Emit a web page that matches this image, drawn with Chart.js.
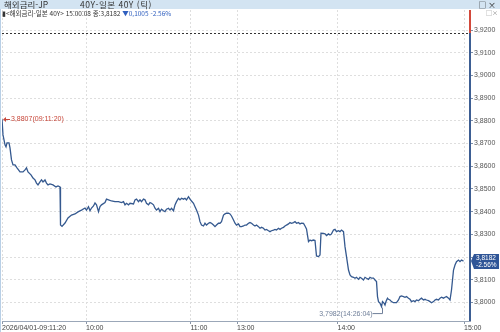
<!DOCTYPE html>
<html lang="ko">
<head>
<meta charset="UTF-8">
<title>해외금리-JP 40Y-일본 40Y (틱)</title>
<script src="https://cdn.jsdelivr.net/npm/chart.js@4.4.1/dist/chart.umd.min.js"></script>
<style>
  html, body { margin: 0; padding: 0; background: #fff; }
  #wrap { position: relative; width: 500px; height: 332px; overflow: hidden; font-family: "Noto Sans CJK KR", sans-serif; }
  #myChart { position: absolute; left: 0; top: 0; }
  #titlebar { position: absolute; left: 0; top: 0; width: 500px; height: 9px; background: #d3e4f2; color: #333; font-size: 8.5px; line-height: 9px; white-space: nowrap; }
  #titlebar .t1 { position: absolute; left: 4px; }
  #titlebar .t2 { position: absolute; left: 80px; letter-spacing: 0.5px; }
  #titlebar .btn { position: absolute; right: 4px; font-size: 8px; color: #222; }
  #info { position: absolute; left: 2px; top: 9px; font-size: 6.5px; line-height: 9px; color: #333; white-space: nowrap; }
  #info .chg { color: #2f5fbf; }
  #mini { position: absolute; right: 2px; top: 9px; font-size: 6px; line-height: 7px; color: #888; }
  #lborder { position: absolute; left: 0; top: 0; width: 1px; height: 332px; background: #b8cfe6; }
</style>
</head>
<body>
<div id="wrap">
  <canvas id="myChart" width="500" height="332"></canvas>
  <div id="lborder"></div>
  <div id="titlebar"><span class="t1">해외금리-JP</span><span class="t2">40Y-일본 40Y (틱)</span><span class="btn">□ ×</span></div>
  <div id="info">▮&lt;해외금리-일본 40Y&gt; 15:00:08 종:3,8182 <span class="chg">▼0,1005 -2.56%</span></div>
  <div id="mini">□×</div>
</div>
<script>
    // tick sequence number and price of each traced tick
    const tickSeq = [0,2,4,6,8,10,14,16,19,22,26,30,36,42,46,49,52,58,62,66,69,72,76,79,82,86,89,92,96,102,108,112,116,
      117,120,126,132,139,146,152,159,166,169,173,176,179,183,186,189,193,196,199,206,209,213,219,226,233,239,243,246,249,253,256,
      263,266,269,273,276,279,283,286,289,293,296,299,303,306,309,313,316,319,323,326,329,333,336,339,343,346,349,353,356,359,363,
      366,369,373,376,379,383,386,389,393,396,399,403,406,409,413,416,419,423,426,429,433,436,439,443,446,449,453,456,459,463,466,
      469,473,476,479,483,486,489,493,496,499,503,506,509,513,516,519,523,526,529,533,536,539,543,546,549,553,556,559,563,566,569,
      573,576,579,583,586,589,593,596,599,603,606,609,613,616,619,623,626,629,633,636,638,643,646,649,653,656,659,663,666,669,673,
      676,679,683,686,689,693,696,699,703,706,709,713,716,719,723,726,729,733,736,739,743,746,749,751,753,756,759,761,764,766,768,
      771,773,776,779,783,789,793,796,799,803,806,809,813,816,819,823,826,829,833,836,839,843,846,849,853,856,859,863,866,869,873,
      876,879,883,886,889,893,896,899,903,906,909,913,916,919,923];
    const prices = [3.8807,3.8738,3.8716,3.8694,3.8685,3.8703,3.8703,3.8681,3.8628,3.8606,3.8606,3.8593,3.8575,3.8575,3.8584,3.8593,
      3.8575,3.8562,3.8548,3.8540,3.8526,3.8518,3.8531,3.8540,3.8531,3.8540,3.8526,3.8518,3.8522,3.8518,3.8509,3.8513,3.8509,
      3.8341,3.8335,3.8350,3.8372,3.8385,3.8390,3.8399,3.8407,3.8416,3.8407,3.8422,3.8404,3.8416,3.8425,3.8438,3.8430,3.8400,3.8422,
      3.8430,3.8440,3.8455,3.8452,3.8447,3.8444,3.8444,3.8440,3.8444,3.8430,3.8437,3.8430,3.8437,3.8434,3.8452,3.8455,3.8444,3.8452,
      3.8444,3.8455,3.8452,3.8437,3.8430,3.8440,3.8437,3.8430,3.8415,3.8407,3.8415,3.8400,3.8411,3.8404,3.8400,3.8411,3.8415,3.8407,
      3.8415,3.8404,3.8430,3.8444,3.8459,3.8452,3.8459,3.8455,3.8459,3.8452,3.8466,3.8455,3.8447,3.8437,3.8422,3.8407,3.8385,3.8356,
      3.8341,3.8337,3.8349,3.8341,3.8349,3.8352,3.8349,3.8341,3.8334,3.8341,3.8349,3.8349,3.8356,3.8385,3.8390,3.8393,3.8393,3.8390,
      3.8381,3.8363,3.8349,3.8341,3.8346,3.8334,3.8334,3.8337,3.8341,3.8341,3.8349,3.8352,3.8349,3.8341,3.8337,3.8341,3.8334,3.8327,
      3.8331,3.8327,3.8319,3.8322,3.8316,3.8312,3.8316,3.8319,3.8322,3.8319,3.8327,3.8322,3.8327,3.8331,3.8337,3.8341,3.8346,3.8352,
      3.8349,3.8352,3.8356,3.8349,3.8352,3.8346,3.8349,3.8348,3.8337,3.8324,3.8268,3.8275,3.8272,3.8275,3.8273,3.8205,3.8202,3.8209,
      3.8305,3.8304,3.8302,3.8295,3.8302,3.8297,3.8302,3.8319,3.8322,3.8312,3.8316,3.8312,3.8319,3.8312,3.8246,3.8202,3.8143,3.8121,
      3.8114,3.8111,3.8107,3.8111,3.8102,3.8111,3.8107,3.8099,3.8111,3.8107,3.8102,3.8111,3.8107,3.8107,3.8099,3.8092,3.8026,3.8004,
      3.7997,3.7982,3.8004,3.7997,3.7989,3.8004,3.8019,3.8014,3.8011,3.8004,3.7999,3.7999,3.8011,3.8026,3.8029,3.8026,3.8023,3.8026,
      3.8019,3.8014,3.8004,3.8008,3.8004,3.8011,3.8008,3.8014,3.8019,3.8011,3.8014,3.8011,3.8008,3.8004,3.7999,3.8004,3.8011,3.8014,
      3.8011,3.8019,3.8023,3.8019,3.8023,3.8026,3.8019,3.8011,3.8055,3.8143,3.8165,3.8180,3.8187,3.8180,3.8187,3.8182];

    const timeTickSeq = [0, 168, 377, 470, 671, 924];
    const timeTickLabels = ['2026/04/01-09:11:20', '10:00', '11:00', '13:00', '14:00', '15:00'];
    const priceTicks = [3.80, 3.81, 3.82, 3.83, 3.84, 3.85, 3.86, 3.87, 3.88, 3.89, 3.90, 3.91, 3.92];

    const prevClose = 3.9187;
    const lastPrice = 3.8182;
    const lastChange = '-2.56%';
    const highSeq = 0, highPrice = 3.8807, highTime = '09:11:20';
    const lowSeq = 759, lowPrice = 3.7982, lowTime = '14:26:04';

    const FONT = 'Liberation Sans';
    const fmt = v => v.toFixed(4).replace('.', ',');

    const overlay = {
        id: 'overlay',
        beforeDatasetsDraw: (chart) => {
            const ctx = chart.ctx, a = chart.chartArea;
            const yp = Math.round(chart.scales.y.getPixelForValue(prevClose)) + 0.5;
            ctx.save();
            ctx.strokeStyle = '#333';
            ctx.lineWidth = 1;
            ctx.setLineDash([2, 2]);
            ctx.beginPath();
            ctx.moveTo(a.left, yp);
            ctx.lineTo(a.right, yp);
            ctx.stroke();
            ctx.restore();
        },
        afterDraw: (chart) => {
            const ctx = chart.ctx, a = chart.chartArea;
            const xs = chart.scales.x, ys = chart.scales.y;
            const yp = ys.getPixelForValue(prevClose);
            ctx.save();
            // right axis line: red above previous close, blue below
            ctx.lineWidth = 2;
            ctx.strokeStyle = '#d2493b';
            ctx.beginPath(); ctx.moveTo(a.right, a.top); ctx.lineTo(a.right, yp); ctx.stroke();
            ctx.strokeStyle = '#3d5e93';
            ctx.beginPath(); ctx.moveTo(a.right, yp); ctx.lineTo(a.right, a.bottom); ctx.stroke();

            // current price box
            const yl = Math.round(ys.getPixelForValue(lastPrice));
            ctx.fillStyle = '#2f5597';
            ctx.beginPath();
            ctx.moveTo(a.right + 1, yl);
            ctx.lineTo(a.right + 4, yl - 7);
            ctx.lineTo(499, yl - 7);
            ctx.lineTo(499, yl + 8);
            ctx.lineTo(a.right + 4, yl + 8);
            ctx.closePath();
            ctx.fill();
            ctx.fillStyle = '#fff';
            ctx.font = '6.5px ' + FONT;
            ctx.textAlign = 'left';
            ctx.textBaseline = 'middle';
            ctx.fillText(fmt(lastPrice), a.right + 6, yl - 3);
            ctx.fillText(lastChange, a.right + 6, yl + 4);

            // high marker
            const hx = xs.getPixelForValue(highSeq), hy = Math.round(ys.getPixelForValue(highPrice)) + 0.5;
            ctx.strokeStyle = '#c8473a'; ctx.fillStyle = '#c8473a'; ctx.lineWidth = 1;
            ctx.beginPath(); ctx.moveTo(hx + 2, hy); ctx.lineTo(hx + 8, hy); ctx.stroke();
            ctx.beginPath(); ctx.moveTo(hx + 1, hy); ctx.lineTo(hx + 4, hy - 2.5); ctx.lineTo(hx + 4, hy + 2.5); ctx.closePath(); ctx.fill();
            ctx.font = '7px ' + FONT;
            ctx.fillText(fmt(highPrice) + '(' + highTime + ')', hx + 9, hy);

            // low marker
            const lx = Math.round(xs.getPixelForValue(lowSeq)) + 0.5, ly = ys.getPixelForValue(lowPrice);
            ctx.strokeStyle = '#6f7f99'; ctx.fillStyle = '#6f7f99';
            ctx.beginPath(); ctx.moveTo(lx, ly + 1); ctx.lineTo(lx, ly + 7); ctx.lineTo(lx - 10, ly + 7); ctx.stroke();
            ctx.textAlign = 'right';
            ctx.fillText(fmt(lowPrice) + '(' + lowTime + ')', lx - 10, ly + 7);
            ctx.restore();
        }
    };

    const ctx = document.getElementById('myChart');
    const myChart = new Chart(ctx, {
        type: 'line',
        data: {
            datasets: [{
                label: '40Y-일본 40Y',
                data: tickSeq.map((s, i) => ({ x: s, y: prices[i] })),
                borderColor: '#35598f',
                borderWidth: 1.3,
                pointRadius: 0,
                tension: 0
            }]
        },
        options: {
            responsive: false,
            animation: false,
            events: [],
            layout: { padding: { left: 2, top: 10, right: 0, bottom: 0 } },
            plugins: { legend: { display: false }, tooltip: { enabled: false } },
            scales: {
                x: {
                    type: 'linear',
                    min: 0,
                    max: 936,
                    afterBuildTicks: s => { s.ticks = timeTickSeq.map(v => ({ value: v })); },
                    afterFit: s => { s.height = 11; },
                    ticks: {
                        autoSkip: false,
                        maxRotation: 0,
                        align: 'start',
                        padding: 0,
                        color: '#444',
                        font: { size: 7, family: FONT },
                        callback: v => timeTickLabels[timeTickSeq.indexOf(v)]
                    },
                    grid: { color: '#dedede', tickLength: 3, tickColor: '#8a96a8' },
                    border: { display: true, color: '#9ba7b8', dash: [2, 2] }
                },
                y: {
                    position: 'right',
                    min: 3.79185,
                    max: 3.92881,
                    afterBuildTicks: s => { s.ticks = priceTicks.map(v => ({ value: v })); },
                    afterFit: s => { s.width = 30; },
                    ticks: {
                        padding: 1,
                        color: '#555',
                        font: { size: 7, family: FONT },
                        callback: v => fmt(v)
                    },
                    grid: { color: '#dedede', tickLength: 3, tickColor: '#7d8ea8' },
                    border: { display: false, dash: [2, 2] }
                }
            }
        },
        plugins: [overlay]
    });
</script>
</body>
</html>
